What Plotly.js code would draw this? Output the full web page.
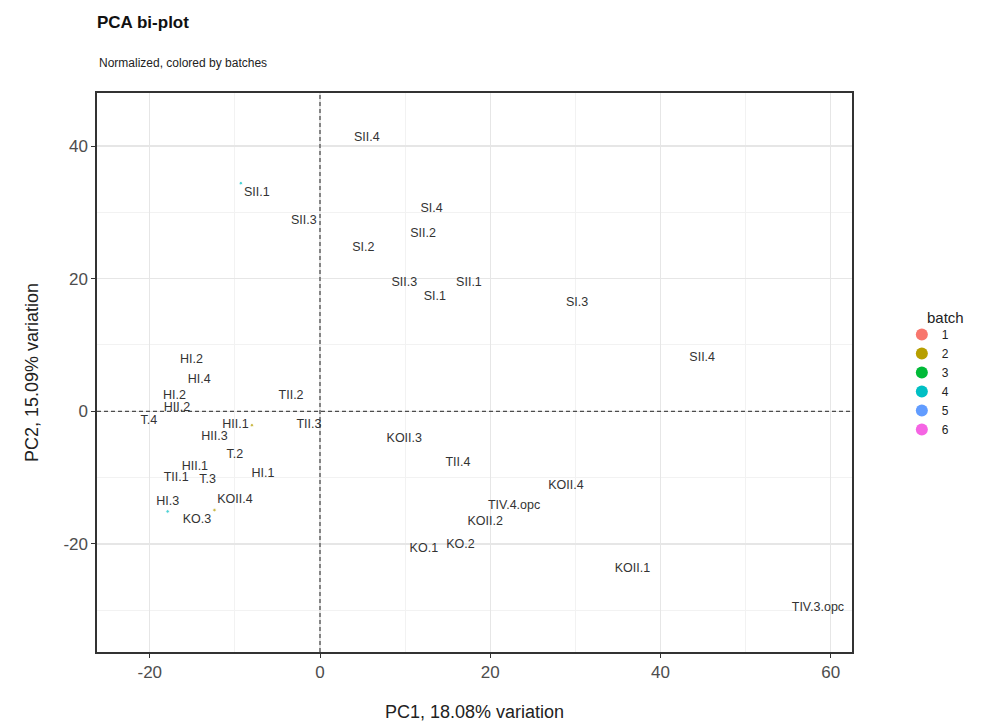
<!DOCTYPE html>
<html>
<head>
<meta charset="utf-8">
<script src="https://cdn.plot.ly/plotly-3.0.1.min.js"></script>
<style>html,body{margin:0;padding:0;background:#fff;}#chart{width:984px;height:727px;}</style>
</head>
<body>
<div id="chart"></div>
<script>
// Sample labels, principal component scores and batch
var sampleLabels = ["SII.4","SII.1","SII.3","SI.4","SII.2","SI.2","SII.3","SII.1","SI.1","SI.3","SII.4",
  "HI.2","HI.4","HI.2","HII.2","T.4","TII.2","HII.1","HII.3","TII.3","T.2","HII.1","HI.1","TII.1","T.3","HI.3",
  "KOII.4","KO.3","KOII.3","TII.4","KOII.4","TIV.4.opc","KOII.2","KO.2","KO.1","KOII.1","TIV.3.opc"];
var pc1 = [5.5,-9.3,-1.9,13.1,12.1,5.1,9.9,17.5,13.5,30.2,44.9,
  -15.1,-14.2,-17.1,-16.8,-20.1,-3.4,-8.0,-12.4,-1.3,-10.0,-14.7,-6.7,-16.9,-13.2,-17.9,
  -10.0,-12.4,9.9,16.2,28.9,22.8,19.4,16.5,12.2,36.7,58.5];
var pc2 = [41.3,34.4,28.7,30.5,26.8,24.6,19.3,19.3,17.3,16.3,8.0,
  7.7,4.7,2.4,0.5,-1.5,2.4,-2.1,-3.8,-2.1,-6.6,-8.4,-9.4,-10.1,-10.4,-15.1,
  -13.4,-14.9,-4.1,-7.8,-11.3,-14.3,-16.7,-20.1,-20.8,-23.7,-29.6];
var batch = [3,4,1,2,5,2,6,3,2,1,5,
  2,2,6,1,4,5,2,3,6,5,3,1,5,6,4,
  4,2,3,2,1,5,6,1,6,3,4];
var xTickVals = [-20, 0, 20, 40, 60];
var xTickText = ["-20", "0", "20", "40", "60"];
var yTickVals = [-20, 0, 20, 40];
var yTickText = ["-20", "0", "20", "40"];
var offsetLabels = {1: "bottom right", 17: "middle left", 27: "bottom left", 25: "top center"};
var batchLevels = ["1","2","3","4","5","6"];
var batchColors = ["#F8766D","#B79F00","#00BA38","#00BFC4","#619CFF","#F564E3"];

var FONT = "Liberation Sans, Arial, sans-serif";
var traces = [];
batchLevels.forEach(function(b, k){
  var idx = [];
  batch.forEach(function(v, i){ if (String(v) === b) idx.push(i); });
  traces.push({
    type: "scatter", mode: "markers+text",
    x: idx.map(function(i){return pc1[i];}),
    y: idx.map(function(i){return pc2[i];}),
    text: idx.map(function(i){return sampleLabels[i];}),
    textposition: idx.map(function(i){return offsetLabels[i] || "middle center";}),
    textfont: {family: FONT, size: 12.5, color: "#333"},
    marker: {color: batchColors[k], size: idx.map(function(i){return offsetLabels[i] ? 3.5 : 0;})},
    legendgroup: b, showlegend: false, cliponaxis: false, hoverinfo: "text"
  });
  traces.push({
    type: "scatter", mode: "markers", x: [null], y: [null], name: b,
    marker: {color: batchColors[k], size: 12}, legendgroup: b, showlegend: true
  });
});

var axisCommon = {
  showline: true, mirror: true, linecolor: "#333", linewidth: 1.6,
  showgrid: true, gridcolor: "#E6E6E6", gridwidth: 1.2,
  zeroline: false, ticks: "outside", ticklen: 4, tickcolor: "#333",
  tickfont: {family: FONT, size: 17, color: "#4D4D4D"},
  minor: {showgrid: true, gridcolor: "#F2F2F2", gridwidth: 1, ticks: ""}
};

var layout = {
  width: 984, height: 727,
  margin: {l: 97, r: 132, t: 93, b: 75},
  paper_bgcolor: "#fff", plot_bgcolor: "#fff",
  font: {family: FONT, color: "#222"},
  title: {text: "<b>PCA bi-plot</b>", x: 0, xref: "paper", xanchor: "left", y: 0.97, yanchor: "middle",
    font: {size: 17, color: "#111"}},
  annotations: [
    {text: "Normalized, colored by batches", xref: "paper", yref: "paper", x: 0, y: 1, xanchor: "left",
      yanchor: "middle", yshift: 30, showarrow: false, font: {size: 12, color: "#222"}},
    {text: "batch", xref: "paper", yref: "paper", x: 1.0967, y: 0.5975, xanchor: "left", yanchor: "middle",
      showarrow: false, font: {size: 15, color: "#222"}}
  ],
  xaxis: Object.assign({}, axisCommon, {
    range: [-26.2, 62.5], tickmode: "array", tickvals: xTickVals, ticktext: xTickText,
    minor: Object.assign({}, axisCommon.minor, {dtick: 10, tick0: 0, tickmode: "linear"}),
    title: {text: "PC1, 18.08% variation", font: {size: 18, color: "#222"}, standoff: 24}
  }),
  yaxis: Object.assign({}, axisCommon, {
    range: [-36.3, 48.0], tickmode: "array", tickvals: yTickVals, ticktext: yTickText,
    minor: Object.assign({}, axisCommon.minor, {dtick: 10, tick0: 0, tickmode: "linear"}),
    title: {text: "PC2, 15.09% variation", font: {size: 18, color: "#222"}, standoff: 20}
  }),
  shapes: [
    {type: "line", xref: "x", yref: "paper", x0: 0, x1: 0, y0: 0, y1: 1, line: {color: "#222", width: 1, dash: "4px,3px"}},
    {type: "line", xref: "paper", yref: "y", x0: 0, x1: 1, y0: 0, y1: 0, line: {color: "#222", width: 1, dash: "4px,3px"}}
  ],
  legend: {
    x: 1.066, xref: "paper", xanchor: "left", y: 0.594, yanchor: "top",
    font: {size: 12, color: "#222"}, tracegroupgap: 0, itemwidth: 30
  }
};

Plotly.newPlot("chart", traces, layout, {displayModeBar: false, staticPlot: true});
</script>
</body>
</html>
